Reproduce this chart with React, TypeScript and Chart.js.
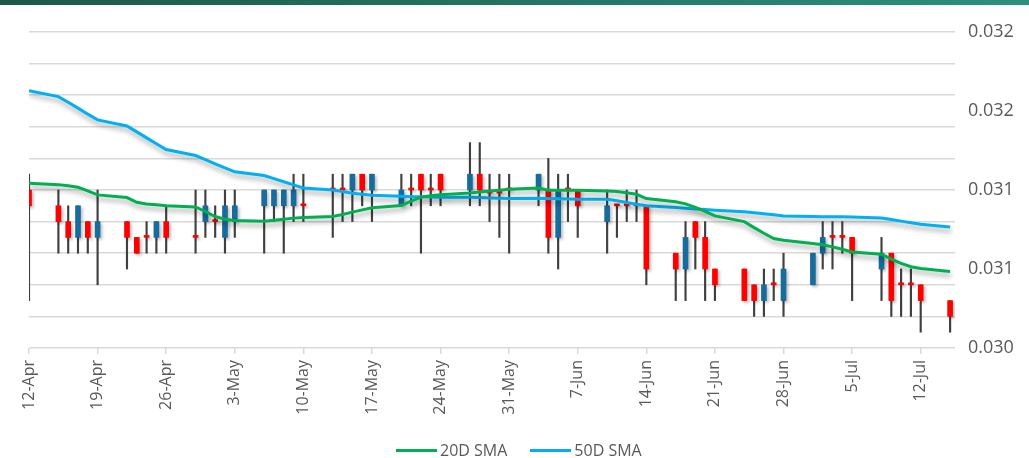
import React, { useEffect, useRef } from 'react';
import { Chart, registerables } from 'chart.js';

Chart.register(...registerables);

// ---------- DATA ----------
const dates = [
  '2024-04-12',
  '2024-04-15', '2024-04-16', '2024-04-17', '2024-04-18', '2024-04-19',
  '2024-04-22', '2024-04-23', '2024-04-24', '2024-04-25', '2024-04-26',
  '2024-04-29', '2024-04-30', '2024-05-01', '2024-05-02', '2024-05-03',
  '2024-05-06', '2024-05-07', '2024-05-08', '2024-05-09', '2024-05-10',
  '2024-05-13', '2024-05-14', '2024-05-15', '2024-05-16', '2024-05-17',
  '2024-05-20', '2024-05-21', '2024-05-22', '2024-05-23', '2024-05-24',
  '2024-05-27', '2024-05-28', '2024-05-29', '2024-05-30', '2024-05-31',
  '2024-06-03', '2024-06-04', '2024-06-05', '2024-06-06', '2024-06-07',
  '2024-06-10', '2024-06-11', '2024-06-12', '2024-06-13', '2024-06-14',
  '2024-06-17', '2024-06-18', '2024-06-19', '2024-06-20', '2024-06-21',
  '2024-06-24', '2024-06-25', '2024-06-26', '2024-06-27', '2024-06-28',
  '2024-07-01', '2024-07-02', '2024-07-03', '2024-07-04', '2024-07-05',
  '2024-07-08', '2024-07-09', '2024-07-10', '2024-07-11', '2024-07-12',
  '2024-07-15',
];

const openV = [
  0.0310,
  0.0309, 0.0308, 0.0307, 0.0308, 0.0307,
  0.0308, 0.0307, 0.0307, 0.0307, 0.0308,
  0.0307, 0.0308, 0.0308, 0.0307, 0.0308,
  0.0309, 0.0309, 0.0309, 0.0309, 0.0309,
  0.0310, 0.0310, 0.0310, 0.0311, 0.0310,
  0.0309, 0.0310, 0.0311, 0.0310, 0.0311,
  0.0310, 0.0311, 0.03098, 0.03098, 0.0310,
  0.0310, 0.0310, 0.0307, 0.0310, 0.0310,
  0.0308, 0.0309, 0.0309, 0.0309, 0.0309,
  0.0306, 0.0305, 0.0308, 0.0307, 0.0305,
  0.0305, 0.0304, 0.0303, 0.0304, 0.0303,
  0.0304, 0.0306, 0.0307, 0.0307, 0.0307,
  0.0305, 0.0306, 0.0304, 0.0304, 0.0304,
  0.0303,
];

const highV = [
  0.0311,
  0.0310, 0.0309, 0.0309, 0.0308, 0.0310,
  0.0308, 0.0307, 0.0308, 0.0308, 0.0309,
  0.0310, 0.0310, 0.0309, 0.0310, 0.0310,
  0.0310, 0.0310, 0.0310, 0.0311, 0.0311,
  0.0311, 0.0311, 0.0311, 0.0311, 0.0311,
  0.0311, 0.0311, 0.0311, 0.0311, 0.0311,
  0.0313, 0.0313, 0.0311, 0.0311, 0.0311,
  0.0311, 0.0312, 0.0311, 0.0311, 0.0310,
  0.0310, 0.0309, 0.0310, 0.0310, 0.0309,
  0.0306, 0.0308, 0.0308, 0.0308, 0.0305,
  0.0305, 0.0304, 0.0305, 0.0305, 0.0306,
  0.0306, 0.0308, 0.0308, 0.0308, 0.0307,
  0.0307, 0.0306, 0.0305, 0.0305, 0.0304,
  0.0303,
];

const lowV = [
  0.0303,
  0.0306, 0.0306, 0.0306, 0.0306, 0.0304,
  0.0305, 0.0306, 0.0306, 0.0306, 0.0306,
  0.0306, 0.0307, 0.0307, 0.0306, 0.0307,
  0.0306, 0.0308, 0.0306, 0.0308, 0.0308,
  0.0307, 0.0308, 0.0308, 0.0309, 0.0308,
  0.0309, 0.0309, 0.0306, 0.0309, 0.0309,
  0.0309, 0.0309, 0.0308, 0.0307, 0.0306,
  0.0309, 0.0306, 0.0305, 0.0308, 0.0307,
  0.0306, 0.0307, 0.0308, 0.0308, 0.0304,
  0.0303, 0.0303, 0.0305, 0.0303, 0.0303,
  0.0303, 0.0302, 0.0302, 0.0303, 0.0302,
  0.0304, 0.0305, 0.0305, 0.0306, 0.0303,
  0.0303, 0.0302, 0.0302, 0.0302, 0.0301,
  0.0301,
];

const closeV = [
  0.0309,
  0.0308, 0.0307, 0.0309, 0.0307, 0.0308,
  0.0307, 0.0306, 0.0307, 0.0308, 0.0307,
  0.0307, 0.0309, 0.0308, 0.0309, 0.0309,
  0.0310, 0.0310, 0.0310, 0.0310, 0.0309,
  0.0310, 0.0310, 0.0311, 0.0310, 0.0311,
  0.0310, 0.0310, 0.0310, 0.0310, 0.0310,
  0.0311, 0.0310, 0.03098, 0.03098, 0.0310,
  0.0311, 0.0307, 0.0310, 0.0310, 0.0309,
  0.0309, 0.0309, 0.0309, 0.0309, 0.0305,
  0.0305, 0.0307, 0.0307, 0.0305, 0.0304,
  0.0303, 0.0303, 0.0304, 0.0304, 0.0305,
  0.0306, 0.0307, 0.0307, 0.0307, 0.0306,
  0.0306, 0.0303, 0.0304, 0.0304, 0.0303,
  0.0302,
];

const sma20 = [
  0.031042,
  0.031034, 0.031027, 0.031017, 0.030995, 0.030969,
  0.030952, 0.030922, 0.030912, 0.030906, 0.030901,
  0.030893, 0.030864, 0.030832, 0.030815, 0.030807,
  0.030803, 0.030809, 0.030815, 0.030822, 0.030826,
  0.030833, 0.030845, 0.030860, 0.030874, 0.030887,
  0.030902, 0.030929, 0.030955, 0.030963, 0.030970,
  0.030981, 0.030988, 0.030994, 0.030999, 0.031004,
  0.031013, 0.030998, 0.030998, 0.030998, 0.030998,
  0.030994, 0.030990, 0.030983, 0.030973, 0.030946,
  0.030925, 0.030912, 0.030890, 0.030865, 0.030836,
  0.030800, 0.030762, 0.030726, 0.030693, 0.030682,
  0.030661, 0.030654, 0.030640, 0.030625, 0.030608,
  0.030594, 0.030562, 0.030535, 0.030514, 0.030503,
  0.030484,
];

const sma50 = [
  0.031629,
  0.031591, 0.031555, 0.031518, 0.031480, 0.031444,
  0.031405, 0.031368, 0.031330, 0.031293, 0.031256,
  0.031218, 0.031192, 0.031166, 0.031140, 0.031115,
  0.031092, 0.031072, 0.031052, 0.031032, 0.031013,
  0.031000, 0.030990, 0.030980, 0.030973, 0.030967,
  0.030960, 0.030958, 0.030957, 0.030955, 0.030954,
  0.030954, 0.030952, 0.030950, 0.030948, 0.030946,
  0.030948, 0.030946, 0.030945, 0.030943, 0.030942,
  0.030942, 0.030932, 0.030921, 0.030910, 0.030900,
  0.030890, 0.030885, 0.030880, 0.030876, 0.030872,
  0.030863, 0.030856, 0.030850, 0.030843, 0.030836,
  0.030832, 0.030831, 0.030830, 0.030830, 0.030829,
  0.030823, 0.030813, 0.030803, 0.030793, 0.030783,
  0.030766,
];

const xTickDates = [
  '2024-04-12', '2024-04-19', '2024-04-26', '2024-05-03', '2024-05-10',
  '2024-05-17', '2024-05-24', '2024-05-31', '2024-06-07', '2024-06-14',
  '2024-06-21', '2024-06-28', '2024-07-05', '2024-07-12',
];
const xTickLabels = [
  '12-Apr', '19-Apr', '26-Apr', '3-May', '10-May', '17-May', '24-May',
  '31-May', '7-Jun', '14-Jun', '21-Jun', '28-Jun', '5-Jul', '12-Jul',
];

const yMin = 0.030;
const yMax = 0.032;
const yGridValues = [0.0300, 0.0302, 0.0304, 0.0306, 0.0308, 0.0310, 0.0312, 0.0314, 0.0316, 0.0318, 0.0320];
const yLabelValues = [0.0300, 0.0305, 0.0310, 0.0315, 0.0320];
const yTickLabels = ['0.030', '0.031', '0.031', '0.032', '0.032'];

const seriesNames = ['20D SMA', '50D SMA'];
const seriesColors = ['#00B050', '#00B0F0'];

// ---------- HELPERS ----------
const DAY = 86400000;
const dayOf = (s: string) => Math.round((Date.parse(s) - Date.parse(dates[0])) / DAY);
const xs = dates.map(dayOf);
const xTickDays = xTickDates.map(dayOf);
const near = (a: number, b: number) => Math.abs(a - b) < 1e-9;

const FONT = '"Open Sans", "Noto Sans", sans-serif';
const TEXT = '#595959';
const UP = '#176B9D';
const DOWN = '#FF0000';

const shadowPlugin = {
  id: 'shadowPlugin',
  beforeDatasetDraw(chart: any, args: any) {
    const ds = chart.data.datasets[args.index];
    const ctx = chart.ctx;
    ctx.save();
    if (ds.type === 'line') {
      ctx.shadowColor = 'rgba(0,0,0,0.33)';
      ctx.shadowBlur = 5;
      ctx.shadowOffsetX = 1;
      ctx.shadowOffsetY = 4;
    } else if (ds.label === 'Body') {
      ctx.shadowColor = 'rgba(0,0,0,0.25)';
      ctx.shadowBlur = 3;
      ctx.shadowOffsetX = 2;
      ctx.shadowOffsetY = 2;
    }
  },
  afterDatasetDraw(chart: any) {
    chart.ctx.restore();
  },
};

export default function App() {
  const canvasRef = useRef<HTMLCanvasElement | null>(null);

  useEffect(() => {
    if (!canvasRef.current) return;
    const wickData = xs.map((x, i) => ({ x, y: [lowV[i], highV[i]] }));
    const bodyData = xs.map((x, i) => ({ x, y: [openV[i], closeV[i]] }));
    const bodyColors = xs.map((_, i) => (closeV[i] > openV[i] ? UP : DOWN));

    const chart = new Chart(canvasRef.current, {
      type: 'bar',
      data: {
        datasets: [
          {
            type: 'line',
            label: seriesNames[0],
            data: xs.map((x, i) => ({ x, y: sma20[i] })),
            borderColor: seriesColors[0],
            backgroundColor: seriesColors[0],
            borderWidth: 3,
            pointRadius: 0,
            tension: 0,
            order: 0,
          } as any,
          {
            type: 'line',
            label: seriesNames[1],
            data: xs.map((x, i) => ({ x, y: sma50[i] })),
            borderColor: seriesColors[1],
            backgroundColor: seriesColors[1],
            borderWidth: 3,
            pointRadius: 0,
            tension: 0,
            order: 0,
          } as any,
          {
            type: 'bar',
            label: 'Body',
            data: bodyData as any,
            backgroundColor: bodyColors,
            borderWidth: 0,
            barThickness: 5,
            minBarLength: 2,
            grouped: false,
            order: 1,
          } as any,
          {
            type: 'bar',
            label: 'Wick',
            data: wickData as any,
            backgroundColor: '#404040',
            borderWidth: 0,
            barThickness: 1.5,
            grouped: false,
            order: 2,
          } as any,
        ],
      },
      options: {
        animation: false,
        responsive: true,
        maintainAspectRatio: false,
        layout: { padding: { left: 29, top: 32, right: 0, bottom: 30 } },
        plugins: {
          legend: { display: false },
          tooltip: { enabled: false },
        },
        scales: {
          x: {
            type: 'linear',
            min: 0,
            max: 94.5,
            offset: false,
            afterBuildTicks: (scale: any) => {
              scale.ticks = xTickDays.map((v) => ({ value: v }));
            },
            afterFit: (scale: any) => {
              scale.height = 80;
            },
            grid: {
              offset: false,
              drawOnChartArea: false,
              drawTicks: true,
              tickLength: 6,
              color: '#d9d9d9',
              lineWidth: 1.5,
            },
            border: { display: false },
            ticks: {
              autoSkip: false,
              minRotation: 90,
              maxRotation: 90,
              padding: 6,
              color: TEXT,
              font: { family: FONT, size: 16 },
              callback: (v: any) => {
                const k = xTickDays.indexOf(Number(v));
                return k >= 0 ? xTickLabels[k] : '';
              },
            },
          } as any,
          y: {
            type: 'linear',
            position: 'right',
            min: yMin,
            max: yMax,
            afterBuildTicks: (scale: any) => {
              const all = [...yGridValues];
              yLabelValues.forEach((v) => {
                if (!all.some((a) => near(a, v))) all.push(v);
              });
              all.sort((a, b) => a - b);
              scale.ticks = all.map((v) => ({ value: v }));
            },
            afterFit: (scale: any) => {
              scale.width = 74;
            },
            grid: {
              drawTicks: false,
              lineWidth: 1.5,
              color: (c: any) =>
                c.tick && yGridValues.some((g) => near(g, c.tick.value)) ? '#d9d9d9' : 'rgba(0,0,0,0)',
            },
            border: { display: false },
            ticks: {
              autoSkip: false,
              padding: 13,
              color: TEXT,
              font: { family: FONT, size: 18 },
              callback: (v: any) => {
                const k = yLabelValues.findIndex((l) => near(l, Number(v)));
                return k >= 0 ? yTickLabels[k] : '';
              },
            },
          } as any,
        },
      },
      plugins: [shadowPlugin as any],
    });
    return () => chart.destroy();
  }, []);

  return (
    <div
      style={{
        position: 'fixed',
        left: 0,
        top: 0,
        width: 1029,
        height: 458,
        background: '#ffffff',
        overflow: 'hidden',
      }}
    >
      <div
        style={{
          position: 'absolute',
          left: 0,
          top: 0,
          width: 1029,
          height: 5,
          background: 'linear-gradient(90deg, #1d5848 0%, #247462 50%, #2b917a 100%)',
        }}
      />
      <canvas ref={canvasRef} style={{ position: 'absolute', left: 0, top: 0 }} />
      <div
        style={{
          position: 'absolute',
          left: 396,
          top: 439,
          height: 22,
          display: 'flex',
          alignItems: 'center',
          fontFamily: FONT,
          fontSize: 16,
          lineHeight: '22px',
          color: TEXT,
          whiteSpace: 'nowrap',
        }}
      >
        <span style={{ display: 'inline-block', width: 41, height: 3, background: seriesColors[0] }} />
        <span style={{ marginLeft: 3 }}>{seriesNames[0]}</span>
        <span style={{ display: 'inline-block', width: 41, height: 3, background: seriesColors[1], marginLeft: 23 }} />
        <span style={{ marginLeft: 3 }}>{seriesNames[1]}</span>
      </div>
    </div>
  );
}
